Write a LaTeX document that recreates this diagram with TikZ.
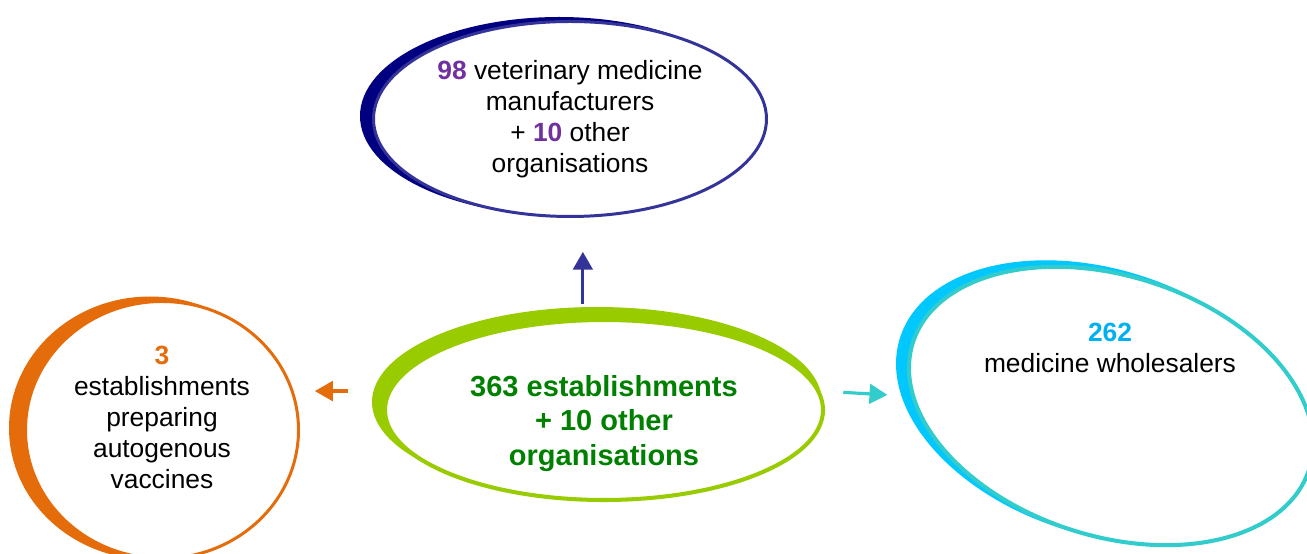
\documentclass[tikz,border=0pt]{standalone}
\usepackage{fontspec}
\setmainfont{Liberation Sans}
\usetikzlibrary{shapes.geometric, arrows, backgrounds}
\definecolor{vetblue}{HTML}{333399}
\definecolor{vetdark}{HTML}{000080}
\definecolor{numpurple}{HTML}{7030A0}
\definecolor{estlime}{HTML}{99CC00}
\definecolor{estgreen}{HTML}{008000}
\definecolor{autoorange}{HTML}{E46C0A}
\definecolor{wholeteal}{HTML}{33CCCC}
\definecolor{wholesky}{HTML}{00C8FF}
\definecolor{numsky}{HTML}{00B0F0}
\tikzstyle{ring} = [ellipse, fill=white, inner sep=0pt, text centered, align=center, font=\fontsize{15}{17.6}\selectfont]
\tikzstyle{moon} = [ellipse, inner sep=0pt]
\tikzstyle{arrow} = [line width=1.8pt,->,>=triangle 60]
\begin{document}
\begin{tikzpicture}[node distance=6cm]
\useasboundingbox (0,0) rectangle (26.14,11.08);

\node (est) [ring, draw=estlime, line width=2.3pt, minimum width=8.76cm, minimum height=3.60cm, text=estgreen, font=\fontsize{16.5}{19.4}\selectfont\bfseries] at (12.08,2.88) {\rule{0pt}{0.96cm}363 establishments\\+ 10 other\\organisations};
\node (vet) [ring, draw=vetblue, line width=1.7pt, minimum width=7.86cm, minimum height=3.90cm, above of=est, xshift=-0.68cm, yshift=-0.18cm] {\textcolor{numpurple}{\textbf{98}} veterinary medicine\\manufacturers\\+ \textcolor{numpurple}{\textbf{10}} other\\organisations};
\node (auto) [ring, draw=autoorange, line width=1.7pt, minimum width=5.46cm, minimum height=5.14cm, left of=est, xshift=-2.84cm, yshift=-0.40cm] {\textcolor{autoorange}{\textbf{3}}\\establishments\\preparing\\autogenous\\vaccines\rule[-0.52cm]{0pt}{0pt}};
\node (whole) [ring, draw=wholeteal, line width=2.3pt, minimum width=8.32cm, minimum height=5.20cm, right of=est, xshift=4.14cm, yshift=0.08cm, rotate=-17.8] {};
\node (wholetext) [align=center, font=\fontsize{15}{17.6}\selectfont] at ([xshift=-0.02cm,yshift=1.16cm]whole.center) {\textcolor{numsky}{\textbf{262}}\\medicine wholesalers};

\begin{scope}[on background layer]
\node (vetmoon) [moon, fill=vetdark, minimum width=7.96cm, minimum height=3.96cm] at ([xshift=-0.22cm,yshift=0.06cm]vet.center) {};
\node (estmoon) [moon, fill=estlime, minimum width=9.00cm, minimum height=3.80cm] at ([xshift=-0.14cm,yshift=0.16cm]est.center) {};
\node (automoon) [moon, fill=autoorange, minimum width=5.64cm, minimum height=5.26cm] at ([xshift=-0.24cm,yshift=0.04cm]auto.center) {};
\node (wholemoon) [moon, fill=wholesky, minimum width=8.44cm, minimum height=5.30cm, rotate=-17.8] at ([xshift=-0.2cm,yshift=0.08cm]whole.center) {};
\end{scope}

\draw [arrow, vetblue, shorten <=0.28cm, shorten >=0.68cm] (est.103) -- (est.103 |- vet.south);
\draw [arrow, autoorange, shorten <=0.8cm, shorten >=0.3cm] (est.175) -- (est.175 -| auto.east);
\draw [arrow, wholeteal, shorten <=0.46cm, shorten >=0.48cm] (est.5) -- (whole.195);

\end{tikzpicture}
\end{document}
